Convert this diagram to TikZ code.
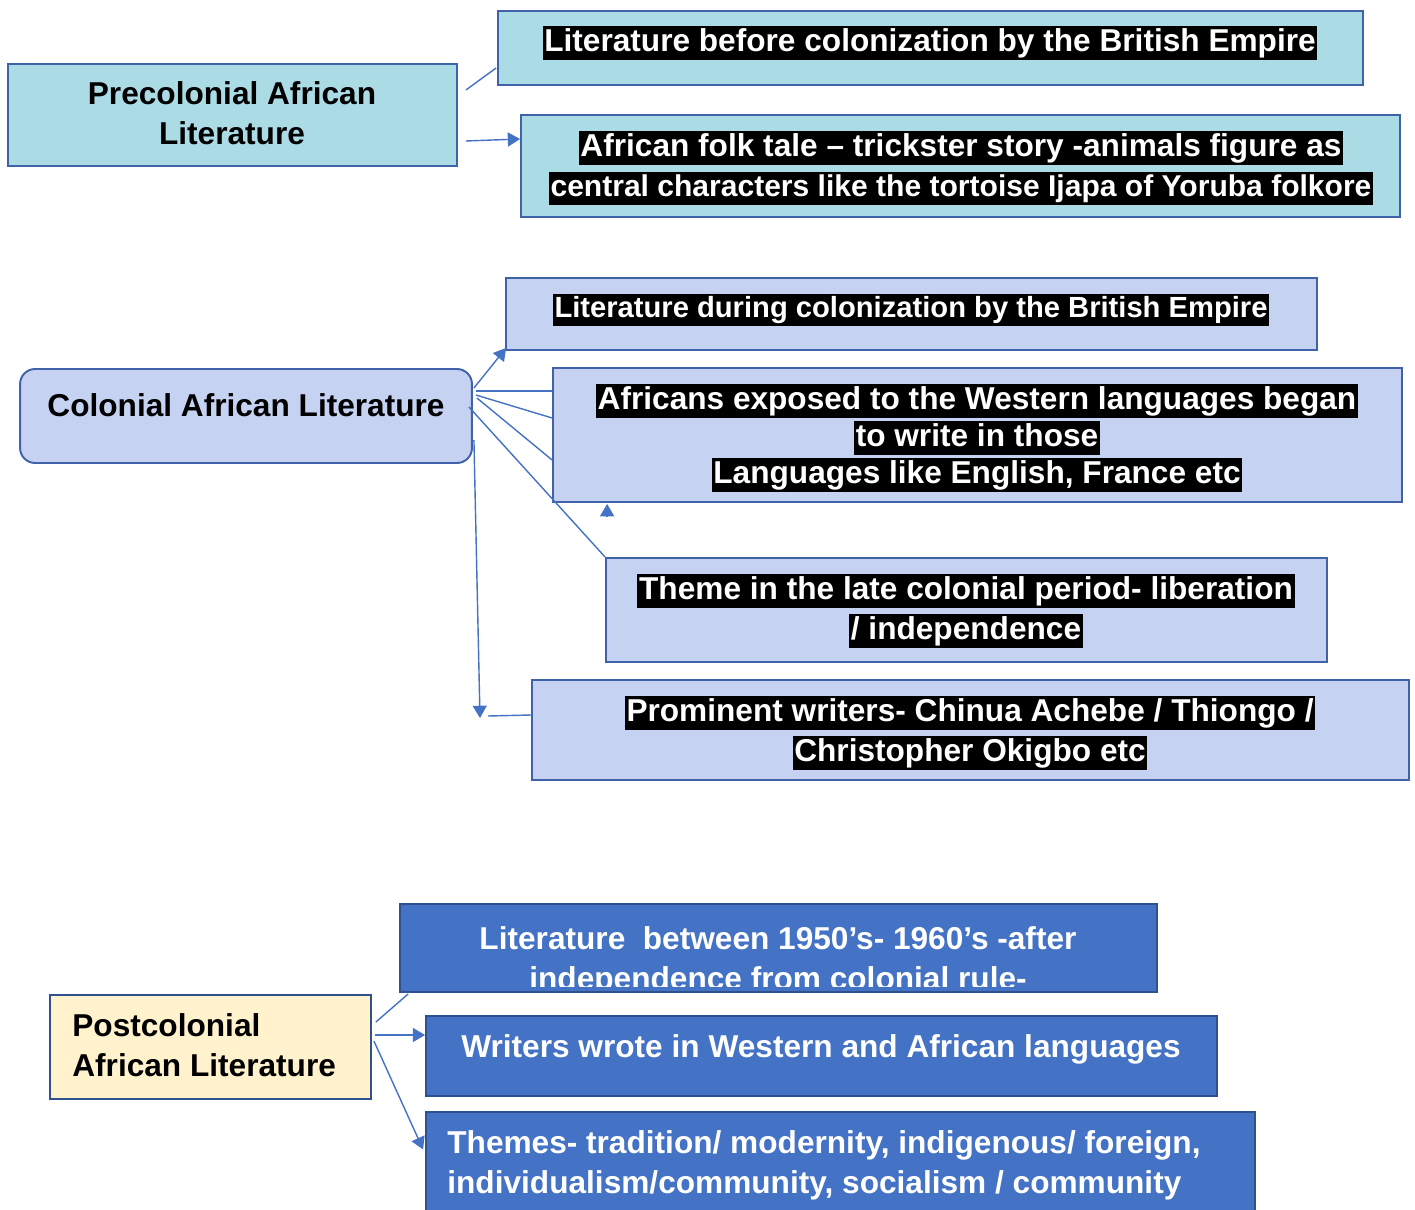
\documentclass[tikz,border=0pt]{standalone}
\usepackage{fontspec}
\setmainfont{Liberation Sans}
\usetikzlibrary{arrows.meta,calc}

\definecolor{linkblue}{HTML}{4472C4}
\definecolor{preborder}{HTML}{3F62A8}
\definecolor{prefill}{HTML}{ABDCE6}
\definecolor{colfill}{HTML}{C6D2F2}
\definecolor{postfill}{HTML}{FFF2CC}
\definecolor{deepblue}{HTML}{2F528F}

% white text on a black band, one line at a time
\newcommand{\hl}[1]{{\setlength{\fboxsep}{1pt}\colorbox{black}{\color{white}\vrule height 0.74em depth 0.22em width 0pt #1}}}

\begin{document}
\begin{tikzpicture}[x=0.02cm, y=-0.02cm, >={Triangle[length=7pt,width=8pt]},
  every node/.style={font=\fontsize{18}{22.7}\selectfont\bfseries},
  precell/.style={draw=preborder, fill=prefill, line width=1.1pt, inner sep=0pt},
  colcell/.style={draw=preborder, fill=colfill, line width=1.1pt, inner sep=0pt},
  postcell/.style={draw=deepblue, fill=postfill, line width=1.1pt, inner sep=0pt},
  bluecell/.style={draw=deepblue, fill=linkblue, line width=1.1pt, inner sep=0pt},
  txt/.style={align=center, inner sep=0pt},
  link/.style={draw=linkblue, line width=0.8pt}]
\useasboundingbox (0,0) rectangle (1415,1209);

% precolonial
\node[precell, minimum width=8.98cm, minimum height=2.04cm] (pre) at (232.5,115) {};
\node[txt] (pret) at (232,113) {Precolonial African\\Literature};
\node[precell, minimum width=17.3cm, minimum height=1.48cm] (b1) at (930.5,48) {};
\node[txt] (b1t) at (930,43) {\hl{Literature before colonization by the British Empire}};
\node[precell, minimum width=17.58cm, minimum height=2.04cm] (b2) at (960.5,166) {};
\node[txt] (b2t) at (961,168) {\hl{African folk tale -- trickster story -animals figure as}\\{\fontsize{17.1}{22.7}\selectfont\hl{central characters like the tortoise Ijapa of Yoruba folkore}}};
\draw[link] ($(pre.east)+(8,-25)$) -- ($(b1.west)+(-1,20)$);
\draw[link,->] ($(pre.east)+(8,26)$) -- ($(b2.west)+(0,-27)$);

% colonial
\node[colcell, rounded corners=0.3cm, minimum width=9.04cm, minimum height=1.88cm] (col) at (246,416) {};
\node[txt] (colt) at (246,405) {Colonial African Literature};
\node[colcell, minimum width=16.22cm, minimum height=1.44cm] (c1) at (911.5,314) {};
\node[txt, font=\fontsize{16.6}{20}\selectfont\bfseries] (c1t) at (911,310) {\hl{Literature during colonization by the British Empire}};
\node[colcell, minimum width=16.98cm, minimum height=2.68cm] (c2) at (977.5,435) {};
\node[txt, font=\fontsize{18}{21}\selectfont\bfseries] (c2t) at (977,438) {\hl{Africans exposed to the Western languages began}\\\hl{to write in those}\\\hl{Languages like English, France etc}};
\node[colcell, minimum width=14.42cm, minimum height=2.08cm] (c3) at (966.5,610) {};
\node[txt] (c3t) at (966,611) {\hl{Theme in the late colonial period- liberation}\\\hl{/ independence}};
\node[colcell, minimum width=17.54cm, minimum height=2cm] (c4) at (970.5,730) {};
\node[txt] (c4t) at (970,733) {\hl{Prominent writers- Chinua Achebe / Thiongo /}\\\hl{Christopher Okigbo etc}};
\coordinate (down) at (480,718);
\draw[link,->] ($(col.east)+(1,-28)$) -- ($(c1.south west)+(1,-3)$);
\draw[link] ($(col.east)+(3,-25)$) -- ($(c2.west)+(0,-44)$);
\draw[link] ($(col.east)+(3,-21)$) -- ($(c2.west)+(0,-17)$);
\draw[link] ($(col.east)+(4,-18)$) -- ($(c2.west)+(0,25)$);
\draw[link] ($(col.east)+(-4,-9)$) -- (c3.north west);
\draw[link,->] ($(c2.south west)+(55,14)$) -- ($(c2.south west)+(55,1)$);
\draw[link,->] ($(col.east)+(1,24)$) -- (down);
\draw[link] ($(down)+(8,-2)$) -- ($(c4.west)+(0,-15)$);

% postcolonial
\node[postcell, minimum width=6.42cm, minimum height=2.08cm] (post) at (210.5,1047) {};
\node[txt, align=left, anchor=west] (postt) at (72,1045) {Postcolonial\\African Literature};
\node[bluecell, minimum width=15.14cm, minimum height=1.76cm] (p1) at (778.5,948) {};
\begin{scope}
\clip (401,905) rectangle (1156,986);
\node[txt, text=white] (p1t) at (778,961.5) {Literature\ \ between 1950’s- 1960’s -after\\independence from colonial rule-};
\end{scope}
\node[bluecell, minimum width=15.82cm, minimum height=1.6cm] (p2) at (821.5,1056) {};
\node[txt, text=white] (p2t) at (821,1049) {Writers wrote in Western and African languages};
\node[bluecell, minimum width=16.58cm, minimum height=2.06cm] (p3) at (840.5,1163.5) {};
\node[txt, text=white, align=left, anchor=west] (p3t) at (447,1165) {Themes- tradition/ modernity, indigenous/ foreign,\\individualism/community, socialism / community};
\draw[link] ($(post.east)+(4,-25)$) -- ($(p1.south west)+(9,1)$);
\draw[link,->] ($(post.east)+(3,-12)$) -- ($(p2.west)+(0,-21)$);
\draw[link,->] ($(post.east)+(2,-6)$) -- ($(p3.west)+(-2,-14)$);
\end{tikzpicture}
\end{document}
